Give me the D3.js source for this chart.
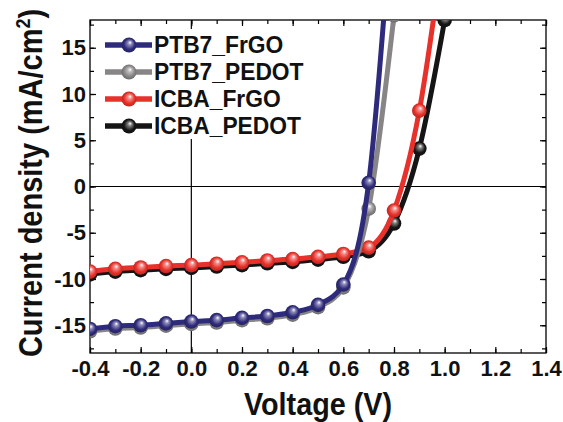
<!DOCTYPE html>
<html lang="en">
<head>
    <meta charset="UTF-8">
    <title>J-V curves</title>
    <script src="https://d3js.org/d3.v7.min.js"></script>
    <style>
        body { margin: 0; background: #fff; }
        svg { display: block; font-family: "Liberation Sans", Arial, sans-serif; font-weight: bold; }
    </style>
</head>
<body>
<svg width="563" height="422"></svg>
<script>

    // voltage steps (V), one marker per step
    var voltage = [-0.4, -0.3, -0.2, -0.1, 0.0, 0.1, 0.2, 0.3, 0.4, 0.5, 0.6, 0.7, 0.8, 0.9, 1.0];

    // current density (mA/cm2)
    var ptb7FrGO  = [-15.4, -15.1, -15.0, -14.8, -14.6, -14.45, -14.2, -14.0, -13.6, -12.8, -10.6, 0.4, 33];
    var ptb7PEDOT = [-15.65, -15.35, -15.25, -15.05, -14.85, -14.7, -14.45, -14.25, -13.85, -13.05, -10.9, -2.4, 18.5];
    var icbaFrGO  = [-9.2, -8.9, -8.75, -8.6, -8.5, -8.35, -8.2, -8.0, -7.85, -7.6, -7.3, -6.6, -2.6, 8.2, 27];
    var icbaPEDOT = [-9.5, -9.2, -9.05, -8.9, -8.8, -8.65, -8.5, -8.3, -8.15, -7.9, -7.6, -7.0, -4.0, 4.1, 18.0];

    var seriesNames  = ["PTB7_FrGO", "PTB7_PEDOT", "ICBA_FrGO", "ICBA_PEDOT"];
    var seriesColors = ["#2f2b7c", "#878586", "#e8312a", "#151515"];

    var xTicks = [-0.4, -0.2, 0.0, 0.2, 0.4, 0.6, 0.8, 1.0, 1.2, 1.4];
    var yTicks = [-15, -10, -5, 0, 5, 10, 15];

    var width  = 563;
    var height = 422;
    var margin = {top: 20, right: 17, bottom: 69, left: 90};

    var svg = d3.select("svg")
        .attr("width", width)
        .attr("height", height);

    var x = d3.scaleLinear().domain([-0.4, 1.4]).range([margin.left, width - margin.right]);
    var y = d3.scaleLinear().domain([-18, 18]).range([height - margin.bottom, margin.top]);

    var series = [
        {name: seriesNames[0], color: seriesColors[0], values: ptb7FrGO},
        {name: seriesNames[1], color: seriesColors[1], values: ptb7PEDOT},
        {name: seriesNames[2], color: seriesColors[2], values: icbaFrGO},
        {name: seriesNames[3], color: seriesColors[3], values: icbaPEDOT}
    ];
    series.forEach(function(s, i) {
        s.id = "ball" + i;
        s.points = s.values.map(function(v, j) { return {v: voltage[j], j: v}; });
    });

    var defs = svg.append("defs");
    defs.append("clipPath").attr("id", "plotClip")
        .append("rect")
        .attr("x", x.range()[0]).attr("y", y.range()[1])
        .attr("width", x.range()[1] - x.range()[0])
        .attr("height", y.range()[0] - y.range()[1]);

    // shiny ball look for the markers
    series.forEach(function(s) {
        var g = defs.append("radialGradient").attr("id", s.id)
            .attr("cx", 0.5).attr("cy", 0.5).attr("r", 0.55)
            .attr("fx", 0.58).attr("fy", 0.32);
        g.append("stop").attr("offset", "0%").attr("stop-color", "#ffffff");
        g.append("stop").attr("offset", "25%").attr("stop-color", d3.interpolateRgb(s.color, "#fff")(0.45));
        g.append("stop").attr("offset", "65%").attr("stop-color", s.color);
        g.append("stop").attr("offset", "100%").attr("stop-color", d3.color(s.color).darker(0.8));
    });

    // zero lines
    svg.append("line")
        .attr("x1", x.range()[0]).attr("x2", x.range()[1])
        .attr("y1", y(0)).attr("y2", y(0))
        .attr("stroke", "#000").attr("stroke-width", 1.2);
    svg.append("line")
        .attr("x1", x(0)).attr("x2", x(0))
        .attr("y1", y.range()[1]).attr("y2", y.range()[0])
        .attr("stroke", "#000").attr("stroke-width", 1.2);

    // ticks on all four sides, pointing in
    function tickAxis(axis, transform, size) {
        var g = svg.append("g").attr("transform", transform)
            .call(axis.tickSize(size));
        g.select(".domain").remove();
        g.selectAll(".tick line").attr("stroke", "#000").attr("stroke-width", 1.2);
        return g;
    }
    var xMinor = x.ticks(18);
    var yMinor = d3.range(-17.5, 18, 2.5);

    tickAxis(d3.axisBottom(x).tickValues(xMinor).tickFormat(""), "translate(0," + y.range()[0] + ")", -4);
    tickAxis(d3.axisTop(x).tickValues(xMinor).tickFormat(""), "translate(0," + y.range()[1] + ")", -4);
    tickAxis(d3.axisLeft(y).tickValues(yMinor).tickFormat(""), "translate(" + x.range()[0] + ",0)", -4);
    tickAxis(d3.axisRight(y).tickValues(yMinor).tickFormat(""), "translate(" + x.range()[1] + ",0)", -4);
    tickAxis(d3.axisTop(x).tickValues(xTicks).tickFormat(""), "translate(0," + y.range()[1] + ")", -6);
    tickAxis(d3.axisRight(y).tickValues(yTicks).tickFormat(""), "translate(" + x.range()[1] + ",0)", -6);

    var xAxis = tickAxis(d3.axisBottom(x).tickValues(xTicks).tickPadding(7)
        .tickFormat(function(d) { return d.toFixed(1); }), "translate(0," + y.range()[0] + ")", -6);
    var yAxis = tickAxis(d3.axisLeft(y).tickValues(yTicks).tickPadding(4)
        .tickFormat(function(d) { return String(d); }), "translate(" + x.range()[0] + ",0)", -6);
    svg.selectAll(".tick text")
        .attr("font-family", "Liberation Sans, Arial, sans-serif")
        .attr("font-weight", "bold")
        .attr("font-size", 22)
        .attr("fill", "#111");

    // frame
    svg.append("rect")
        .attr("x", x.range()[0]).attr("y", y.range()[1])
        .attr("width", x.range()[1] - x.range()[0])
        .attr("height", y.range()[0] - y.range()[1])
        .attr("fill", "none").attr("stroke", "#000").attr("stroke-width", 1.3);

    // curves, back to front
    var line = d3.line()
        .x(function(d) { return x(d.v); })
        .y(function(d) { return y(d.j); })
        .curve(d3.curveMonotoneX);

    var plot = svg.append("g").attr("clip-path", "url(#plotClip)");
    series.slice().reverse().forEach(function(s) {
        plot.append("path")
            .datum(s.points)
            .attr("d", line)
            .attr("fill", "none")
            .attr("stroke", s.color)
            .attr("stroke-width", 5);
        plot.selectAll(null)
            .data(s.points)
            .enter().append("circle")
            .attr("cx", function(d) { return x(d.v); })
            .attr("cy", function(d) { return y(d.j); })
            .attr("r", 7.3)
            .attr("fill", "url(#" + s.id + ")");
    });

    // legend with white box over the zero line
    svg.append("rect")
        .attr("x", 99).attr("y", 29).attr("width", 200).attr("height", 110)
        .attr("fill", "#fff");
    var legend = svg.selectAll(".legend")
        .data(series)
        .enter().append("g")
        .attr("class", "legend")
        .attr("transform", function(d, i) { return "translate(0," + (45 + i * 27) + ")"; });
    legend.append("line")
        .attr("x1", 105).attr("x2", 152)
        .attr("stroke", function(d) { return d.color; })
        .attr("stroke-width", 5.5);
    legend.append("circle")
        .attr("cx", 129).attr("r", 7.5)
        .attr("fill", function(d) { return "url(#" + d.id + ")"; });
    legend.append("text")
        .attr("x", 154).attr("y", 8)
        .attr("font-size", 24)
        .attr("fill", "#111")
        .text(function(d) { return d.name; })
        .each(function() {
            var w = this.getComputedTextLength();
            d3.select(this).attr("textLength", w * 0.95).attr("lengthAdjust", "spacingAndGlyphs");
        });

    // axis titles
    svg.append("text")
        .attr("x", 318).attr("y", 415)
        .attr("text-anchor", "middle")
        .attr("font-size", 31)
        .attr("fill", "#111")
        .attr("textLength", 148).attr("lengthAdjust", "spacingAndGlyphs")
        .text("Voltage (V)");

    // stretched a bit across so the glyphs stand as tall as the original's
    var yTitle = svg.append("text")
        .attr("transform", "translate(42,183) rotate(-90) scale(1,1.12)")
        .attr("text-anchor", "middle")
        .attr("font-size", 29)
        .attr("fill", "#111");
    yTitle.append("tspan").text("Current density (mA/cm");
    yTitle.append("tspan").attr("dy", -11).attr("font-size", 18).text("2");
    yTitle.append("tspan").attr("dy", 11).text(")");

</script>
</body>
</html>
